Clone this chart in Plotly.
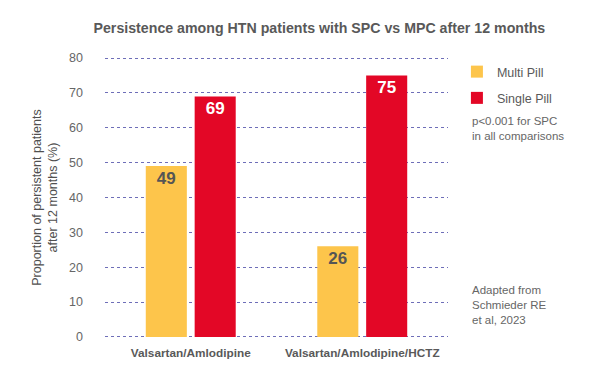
import plotly.graph_objects as go

categories = ["Valsartan/Amlodipine", "Valsartan/Amlodipine/HCTZ"]
multi_pill = [49, 26]
single_pill = [69, 75]
y_ticks = [0, 10, 20, 30, 40, 50, 60, 70, 80]

FONT = "Arial"
GREY = "#595959"

fig = go.Figure()
fig.add_trace(go.Bar(
    name="Multi Pill", x=categories, y=multi_pill, legendgroup="m",
    marker=dict(color="#FDC54B", line=dict(width=0)),
    text=[str(v) for v in multi_pill], textposition="inside", insidetextanchor="end",
    textfont=dict(family=FONT, size=17, color="#555555", weight="bold"),
    textangle=0,
))
fig.add_trace(go.Bar(
    name="Single Pill", x=categories, y=single_pill, legendgroup="s",
    marker=dict(color="#E30726", line=dict(width=0)),
    text=[str(v) for v in single_pill], textposition="inside", insidetextanchor="end",
    textfont=dict(family=FONT, size=17, color="white", weight="bold"),
    textangle=0,
))

fig.update_layout(
    width=600, height=382,
    margin=dict(l=97, r=160, t=49, b=52, autoexpand=False),
    paper_bgcolor="white", plot_bgcolor="white",
    font=dict(family=FONT, color=GREY),
    barmode="group", bargap=0.43, bargroupgap=0.16,
    title=dict(text="<b>Persistence among HTN patients with SPC vs MPC after 12 months</b>",
               x=0.519, xanchor="center", y=0.948, yanchor="middle",
               font=dict(size=14.2, color=GREY)),
    uniformtext=dict(minsize=8, mode="show"),
    legend=dict(x=1.026, y=1.0, xanchor="left", yanchor="top",
                font=dict(size=12.5, color=GREY), tracegroupgap=7,
                itemwidth=30),
    showlegend=True,
)
fig.update_yaxes(
    range=[-0.3, 80.3], tickvals=y_ticks, showgrid=True, gridcolor="#6E6EB8",
    griddash="dot", gridwidth=1, zeroline=False, showline=False, automargin=False,
    tickfont=dict(size=12.5, color="#666666"), ticklabelstandoff=21,
    title=dict(text="Proportion of persistent patients<br>after 12 months (%)",
               font=dict(size=12.5, color="#505050"), standoff=8),
)
fig.update_xaxes(
    showgrid=False, showline=False, zeroline=False, automargin=False,
    tickfont=dict(size=11.8, color=GREY, weight="bold"), ticklabelstandoff=6,
)
fig.add_annotation(text="p<0.001 for SPC<br>in all comparisons", xref="paper", yref="paper",
                   x=1.064, y=0.80, xanchor="left", yanchor="top", align="left",
                   showarrow=False, font=dict(size=11.5, color="#666666"))
fig.add_annotation(text="Adapted from<br>Schmieder RE<br>et al, 2023", xref="paper", yref="paper",
                   x=1.064, y=0.20, xanchor="left", yanchor="top", align="left",
                   showarrow=False, font=dict(size=11.5, color="#666666"))

fig.write_html("out.html")
